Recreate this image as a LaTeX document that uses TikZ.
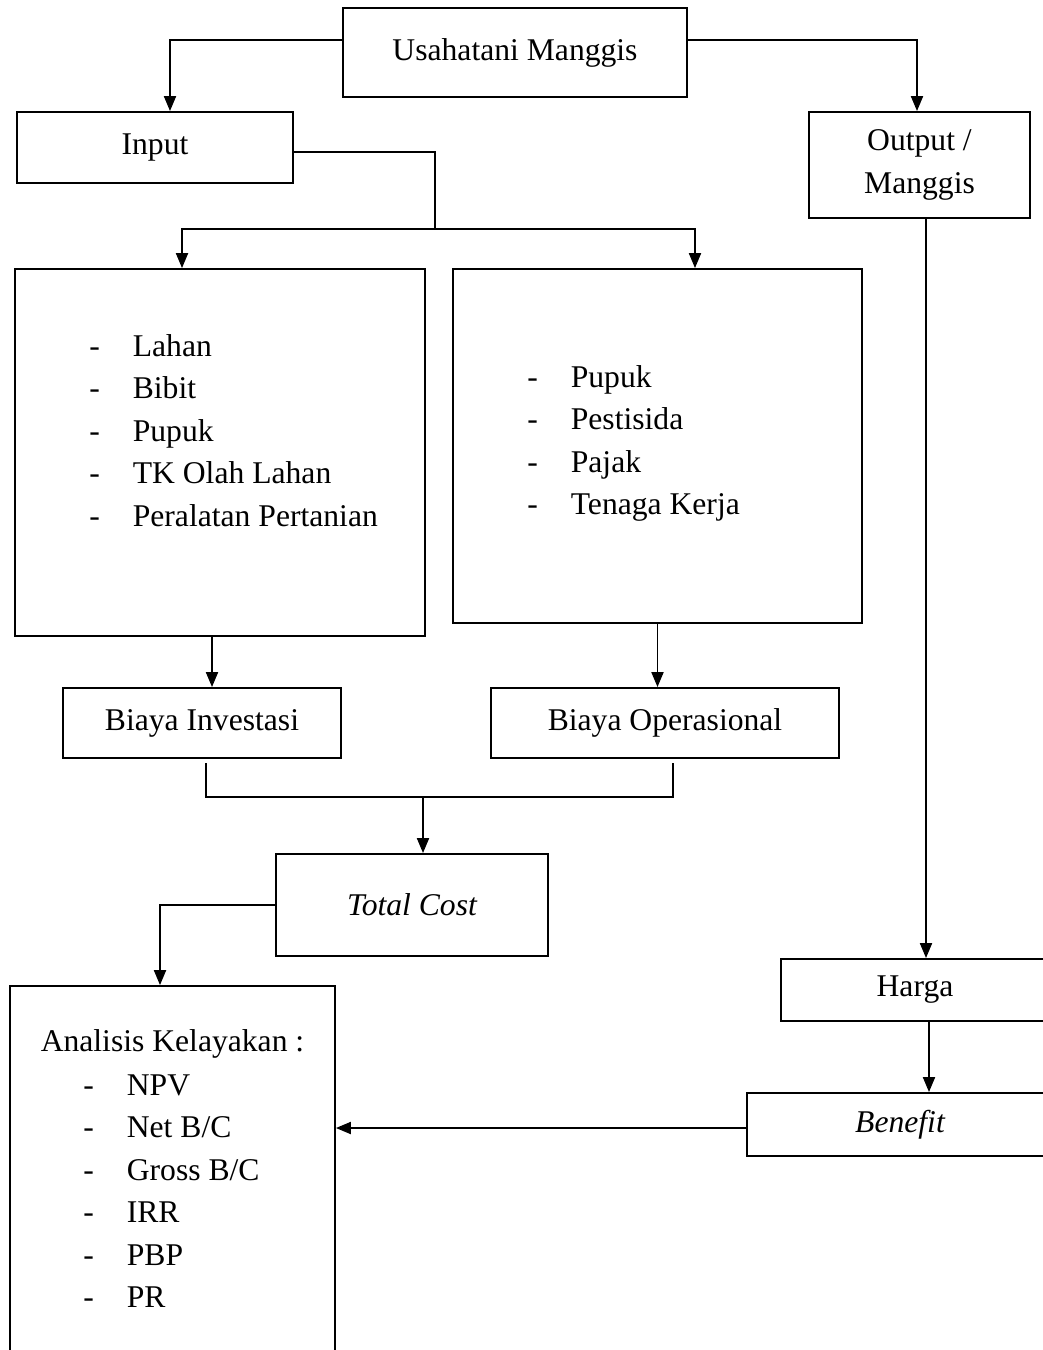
\documentclass[tikz,border=0pt]{standalone}
\usepackage{fontspec}
\setmainfont{Liberation Serif}
\usetikzlibrary{calc}
\usetikzlibrary{arrows.meta}

\tikzset{
  kotak/.style={draw, line width=1.2pt, inner sep=0pt, align=center, font=\fontsize{18}{24}\selectfont},
  daftar/.style={inner sep=0pt, align=left, anchor=west, font=\fontsize{18}{24.2}\selectfont},
  garis/.style={line width=0.6pt},
  panah/.style={line width=0.6pt, -{Triangle[length=8.5pt,width=7pt]}},
}
\newcommand{\butir}[1]{\makebox[0.87cm][l]{-}#1}

\begin{document}
\begin{tikzpicture}[x=0.02cm,y=-0.02cm]
        %BATAS
        \useasboundingbox (0,0) rectangle (1043,1350);
        \clip (0,0) rectangle (1043,1350);
        %KOTAK
        \node[kotak, minimum width=6.88cm, minimum height=1.78cm] (usaha) at (515,52.5) {Usahatani Manggis};
        \node[kotak, minimum width=5.52cm, minimum height=1.42cm] (input) at (155,147.5) {Input};
        \node[kotak, minimum width=4.42cm, minimum height=2.12cm] (output) at (919.5,165) {Output /\\Manggis};
        \node[kotak, minimum width=8.2cm, minimum height=7.34cm] (investasi) at (220,452.5) {};
        \node[kotak, minimum width=8.18cm, minimum height=7.08cm] (operasional) at (657.5,446) {};
        \node[kotak, minimum width=5.56cm, minimum height=1.4cm] (binv) at (202,723) {Biaya Investasi};
        \node[kotak, minimum width=6.96cm, minimum height=1.4cm] (bop) at (665,723) {Biaya Operasional};
        \node[kotak, minimum width=5.44cm, minimum height=2.04cm] (tc) at (412,905) {\itshape Total Cost};
        \node[kotak, minimum width=6.5cm, minimum height=8.28cm] (analisis) at (172.5,1193) {};
        \node[kotak, minimum width=5.36cm, minimum height=1.24cm] (harga) at (915,990) {Harga};
        \node[kotak, minimum width=6.12cm, minimum height=1.26cm] (benefit) at (900,1124.5) {\itshape Benefit};
        %ISI
        \node[daftar] (isiinv) at (89,430.5) {\butir{Lahan}\\\butir{Bibit}\\\butir{Pupuk}\\\butir{TK Olah Lahan}\\\butir{Peralatan Pertanian}};
        \node[daftar] (isiop) at (527,443.5) {\butir{Pupuk}\\\butir{Pestisida}\\\butir{Pajak}\\\butir{Tenaga Kerja}};
        \node[font=\fontsize{18}{24}\selectfont, inner sep=0pt] (judul) at (172.5,1044) {Analisis Kelayakan :};
        \node[daftar] (isian) at (83,1191) {\butir{NPV}\\\butir{Net B/C}\\\butir{Gross B/C}\\\butir{IRR}\\\butir{PBP}\\\butir{PR}};
        %KOORDINAT
        \coordinate (cabang) at (435,229);
        \coordinate (gabung) at (423,797);
        \coordinate (A) at ([xshift=-0.16cm]investasi.south);
        \coordinate (B) at ([xshift=0.13cm]output.south);
        \coordinate (C) at ([xshift=0.28cm]harga.south);
        \coordinate (D) at ([yshift=-0.07cm]benefit.west);
        %GARIS
        \draw[panah] ([yshift=0.25cm]usaha.west) -| ([xshift=0.3cm]input.north);
        \draw[panah] ([yshift=0.25cm]usaha.east) -| ([xshift=-0.05cm]output.north);
        \draw[garis] ([yshift=-0.09cm]input.east) -| (cabang);
        \draw[panah] (cabang) -| ([xshift=-0.76cm]investasi.north);
        \draw[panah] (cabang) -| ([xshift=0.75cm]operasional.north);
        \draw[panah] (A) -- (A |- binv.north);
        \draw[panah] (operasional.south) -- (operasional.south |- bop.north);
        \draw[garis] ([xshift=0.08cm,yshift=-0.08cm]binv.south) |- (gabung) -| ([xshift=0.16cm,yshift=-0.08cm]bop.south);
        \draw[panah] (gabung) -- (gabung |- tc.north);
        \draw[panah] (tc.west) -| ([xshift=-0.25cm]analisis.north);
        \draw[panah] (B) -- (B |- harga.north);
        \draw[panah] (C) -- (C |- benefit.north);
        \draw[panah] (D) -- (D -| analisis.east);
    \end{tikzpicture}
\end{document}
